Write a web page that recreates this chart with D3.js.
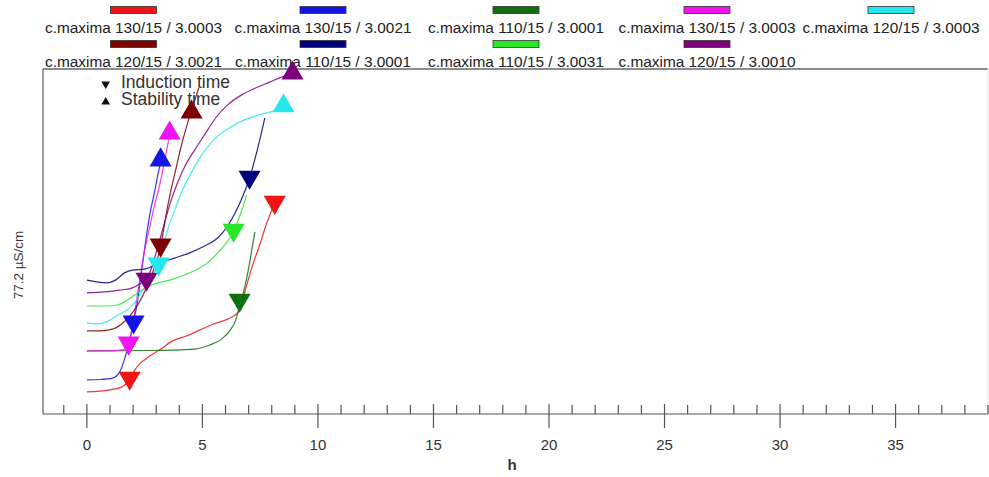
<!DOCTYPE html>
<html>
<head>
<meta charset="utf-8">
<script src="https://cdn.jsdelivr.net/npm/d3@7"></script>
<style>
  html, body { margin: 0; padding: 0; background: #fff; }
  svg { display: block; font-family: "Liberation Sans", Arial, sans-serif; }
</style>
</head>
<body>
<svg id="chart" width="989" height="477"></svg>
<script>
// Series labels (sample / temperature / run id)
const seriesNames = [
  "c.maxima 130/15 / 3.0003", "c.maxima 130/15 / 3.0021", "c.maxima 110/15 / 3.0001",
  "c.maxima 130/15 / 3.0003", "c.maxima 120/15 / 3.0003",
  "c.maxima 120/15 / 3.0021", "c.maxima 110/15 / 3.0001", "c.maxima 110/15 / 3.0031",
  "c.maxima 120/15 / 3.0010"
];
const seriesColors = ["#f01414", "#1414e6", "#0f700f", "#f014f0", "#28e6ee",
                      "#7d0000", "#00007d", "#28e628", "#7d007d"];

// Conductivity curves: [time h, conductivity (% of 77.2 µS/cm full scale)]
const red130_0003 = [[0,6.4],[0.98,7.0],[1.5,7.8],[1.76,9.3],[2.02,12.2],[2.28,14.5],[2.72,16.8],[3.15,18.6],[3.71,21.2],[4.31,22.6],[4.88,24.3],[5.48,26.1],[6.09,27.5],[6.52,29.3],[6.82,35.1],[7.13,42.3],[7.48,49.0],[7.74,54.5],[8.0,59.1],[8.13,61.4]];
const blue130_0021 = [[0,9.9],[0.55,10.0],[1.11,10.4],[1.42,12.2],[1.59,15.1],[1.72,18.0],[1.85,21.4],[2.02,26.7],[2.2,33.0],[2.37,41.7],[2.55,50.4],[2.72,57.7],[2.9,63.5],[3.07,69.3],[3.19,73.0]];
const green110_0001 = [[0,18.3],[2.71,18.4],[4.66,18.8],[5.31,20.0],[5.83,21.7],[6.18,24.1],[6.44,27.2],[6.62,31.6],[6.8,35.9],[6.97,41.2],[7.1,46.1],[7.27,52.8]];
const magenta130_0003 = [[0,18.3],[0.98,18.3],[1.55,18.6],[1.81,20.6],[1.98,25.8],[2.15,33.0],[2.32,40.3],[2.5,47.5],[2.71,53.9],[2.93,60.6],[3.15,66.4],[3.37,73.6],[3.58,80.9]];
const cyan120_0003 = [[0,26.4],[0.42,26.1],[0.85,26.7],[1.2,28.1],[1.5,29.3],[1.85,30.7],[2.15,33.0],[2.37,35.4],[2.63,38.0],[2.89,40.9],[3.1,43.5],[3.28,48.1],[3.49,53.3],[3.8,59.1],[4.14,64.9],[4.53,70.1],[4.97,75.1],[5.48,79.4],[6.09,82.6],[6.7,84.9],[7.3,86.4],[7.91,87.5],[8.43,88.7]];
const maroon120_0021 = [[0,24.1],[0.55,24.1],[1.11,24.6],[1.5,26.1],[1.85,28.4],[2.2,31.6],[2.5,35.4],[2.8,40.3],[3.06,45.2],[3.19,48.7],[3.32,53.3],[3.45,58.6],[3.62,64.3],[3.84,70.7],[4.06,77.1],[4.27,82.3],[4.53,88.1],[4.84,94.5]];
const navy110_0001 = [[0,38.8],[0.42,38.3],[0.85,38.0],[1.24,38.8],[1.63,40.9],[1.98,41.7],[2.5,42.0],[3.15,43.8],[3.8,45.2],[4.45,46.7],[5.09,48.7],[5.66,51.0],[6.09,54.5],[6.44,58.6],[6.75,63.2],[7.04,68.4],[7.26,73.6],[7.48,79.4],[7.7,85.8]];
const lime110_0031 = [[0,31.3],[0.77,31.3],[1.33,31.6],[1.63,32.5],[1.94,33.9],[2.37,35.9],[2.93,37.7],[3.58,38.8],[4.23,40.3],[4.88,42.3],[5.31,44.3],[5.66,46.7],[6.0,49.3],[6.26,51.9],[6.52,55.7],[6.74,59.7],[6.91,63.5]];
const purple120_0010 = [[0,35.1],[0.77,35.4],[1.42,35.9],[1.94,36.5],[2.28,37.7],[2.58,39.4],[2.8,42.3],[2.97,46.1],[3.15,50.4],[3.37,55.7],[3.62,61.4],[3.93,67.2],[4.27,72.2],[4.66,76.5],[5.09,80.9],[5.57,85.8],[6.09,89.6],[6.7,92.5],[7.3,94.5],[7.91,96.2],[8.56,98.0],[8.9,98.8]];
const seriesData = [red130_0003, blue130_0021, green110_0001, magenta130_0003, cyan120_0003,
                    maroon120_0021, navy110_0001, lime110_0031, purple120_0010];

// Induction time markers (series index, h, value)
const inductionSeries = [0, 0, 1, 3, 8, 4, 5, 7, 2, 6];
const inductionH      = [1.85, 8.13, 2.02, 1.81, 2.58, 3.1, 3.19, 6.35, 6.61, 7.04];
const inductionV      = [10.4, 61.4, 26.7, 20.6, 39.1, 43.5, 49.0, 53.3, 33.0, 68.7];

// Stability time markers
const stabilitySeries = [1, 3, 5, 4, 8];
const stabilityH      = [3.19, 3.58, 4.53, 8.51, 8.9];
const stabilityV      = [73.6, 81.4, 87.5, 89.3, 98.8];

// Axis ticks
const majorTicks = [0, 5, 10, 15, 20, 25, 30, 35];
const minorTicks = d3.range(-1, 40).filter(t => t % 5 !== 0);

const svg = d3.select("#chart");
const plotLeft = 43, plotRight = 988, plotTop = 69, plotBottom = 414;

const x = d3.scaleLinear().domain([-1.9, 39]).range([plotLeft, plotRight]);
const y = d3.scaleLinear().domain([0, 100]).range([plotBottom, plotTop]);

// Legend above the plot
const legendCols = [133.5, 323, 516, 707, 891];
seriesNames.forEach((name, i) => {
  const row = i < 5 ? 0 : 1;
  const col = i < 5 ? i : i - 5;
  const cx = legendCols[col];
  const sy = row === 0 ? 6.5 : 40.5;
  svg.append("rect")
    .attr("x", cx - 23).attr("y", sy).attr("width", 46).attr("height", 7)
    .attr("fill", seriesColors[i]).attr("stroke", "#333").attr("stroke-width", 0.8);
  svg.append("text")
    .attr("x", cx).attr("y", row === 0 ? 33 : 67)
    .attr("text-anchor", "middle").attr("font-size", 15.4).attr("fill", "#222")
    .text(name);
});

// Plot frame
const frame = svg.append("g").attr("stroke", "#666").attr("stroke-width", 1.3).attr("fill", "none");
frame.append("line").attr("x1", plotLeft).attr("x2", plotRight).attr("y1", plotTop).attr("y2", plotTop);
frame.append("line").attr("x1", plotLeft).attr("x2", plotLeft).attr("y1", plotTop).attr("y2", plotBottom);
frame.append("line").attr("x1", plotRight).attr("x2", plotRight).attr("y1", plotTop).attr("y2", plotBottom).attr("stroke", "#eee");

// X axis: baseline, major and minor ticks
const axisG = svg.append("g").attr("stroke", "#555").attr("stroke-width", 1.2);
axisG.append("line").attr("x1", plotLeft).attr("x2", plotRight).attr("y1", plotBottom).attr("y2", plotBottom);
axisG.selectAll(".minor").data(minorTicks).join("line")
  .attr("x1", d => x(d)).attr("x2", d => x(d)).attr("y1", plotBottom - 9).attr("y2", plotBottom);
axisG.selectAll(".major").data(majorTicks).join("line")
  .attr("x1", d => x(d)).attr("x2", d => x(d)).attr("y1", plotBottom - 10).attr("y2", plotBottom + 14);
svg.append("g").selectAll("text").data(majorTicks).join("text")
  .attr("x", d => x(d)).attr("y", 450)
  .attr("text-anchor", "middle").attr("font-size", 15).attr("fill", "#333")
  .text(d => d);
svg.append("text").attr("x", 512).attr("y", 470).attr("text-anchor", "middle")
  .attr("font-size", 15).attr("font-weight", "bold").attr("fill", "#333").text("h");

// Y axis title
svg.append("text")
  .attr("transform", "translate(23,265) rotate(-90)")
  .attr("text-anchor", "middle").attr("font-size", 13.5).attr("fill", "#333")
  .text("77.2 µS/cm");

// Curves
const line = d3.line().x(d => x(d[0])).y(d => y(d[1])).curve(d3.curveMonotoneX);
svg.append("g").selectAll("path").data(seriesData).join("path")
  .attr("d", line)
  .attr("fill", "none")
  .attr("stroke", (d, i) => seriesColors[i])
  .attr("stroke-width", 1.2)
  .attr("stroke-opacity", 0.85);

// Markers
const tri = d3.symbol().type(d3.symbolTriangle).size(210);
svg.append("g").selectAll("path").data(inductionH).join("path")
  .attr("d", tri)
  .attr("transform", (d, i) => `translate(${x(d)},${y(inductionV[i])}) rotate(180)`)
  .attr("fill", (d, i) => seriesColors[inductionSeries[i]]);
svg.append("g").selectAll("path").data(stabilityH).join("path")
  .attr("d", tri)
  .attr("transform", (d, i) => `translate(${x(d)},${y(stabilityV[i])})`)
  .attr("fill", (d, i) => seriesColors[stabilitySeries[i]]);

// Marker key
const smallTri = d3.symbol().type(d3.symbolTriangle).size(32);
svg.append("path").attr("d", smallTri).attr("transform", "translate(105.7,84) rotate(180)").attr("fill", "#111");
svg.append("path").attr("d", smallTri).attr("transform", "translate(105.7,102)").attr("fill", "#111");
svg.append("text").attr("x", 121).attr("y", 88).attr("font-size", 17.5).attr("fill", "#333").text("Induction time");
svg.append("text").attr("x", 121).attr("y", 105).attr("font-size", 17.5).attr("fill", "#333").text("Stability time");
</script>
</body>
</html>
